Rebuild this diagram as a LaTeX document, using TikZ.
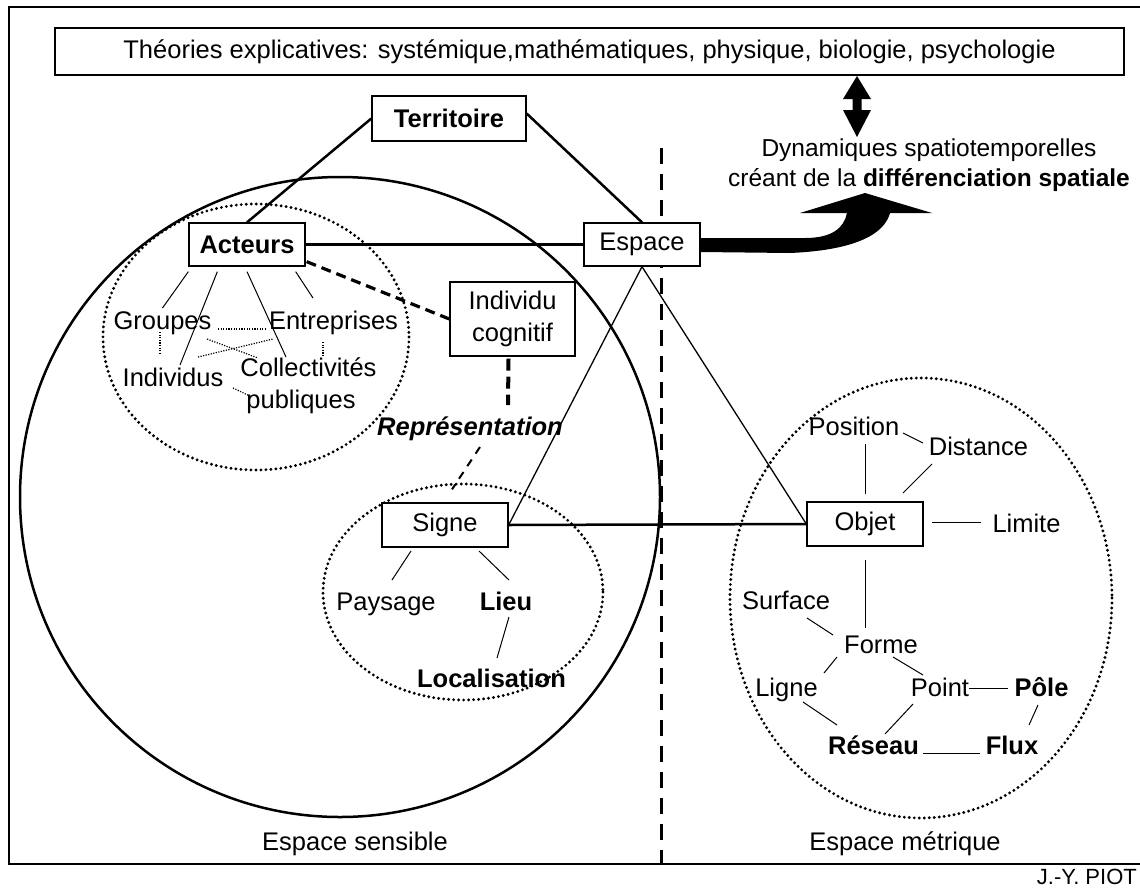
\documentclass[tikz,border=0pt]{standalone}
\usepackage{fontspec}
\setmainfont{Liberation Sans}
\usetikzlibrary{calc}
\newcommand\myfs{\fontsize{25.5}{30}\selectfont}
\newcommand\myfsb{\fontsize{25.5}{32}\selectfont}
\newcommand\myfsd{\fontsize{24.5}{30}\selectfont}
\begin{document}
\begin{tikzpicture}[x=1pt,y=-1pt,
  box/.style={draw, fill=white, line width=1.3pt, inner sep=0pt, font=\myfs},
  lbl/.style={inner sep=0pt, text height=18pt, text depth=5pt, font=\myfs},
  thk/.style={line width=2.5pt},
  thn/.style={line width=1.3pt},
  cl/.style={line width=1pt},
  dotc/.style={line width=3.2pt, line cap=round, dash pattern=on 0pt off 5pt},
  dotl/.style={line width=1.2pt, dash pattern=on 1.2pt off 1.4pt},
  dsh/.style={line width=3.2pt, dash pattern=on 10pt off 6pt},
  vdsh/.style={line width=3pt, dash pattern=on 16pt off 10pt},
  ldsh/.style={line width=2pt, dash pattern=on 8pt off 7pt}]
\useasboundingbox (0,0) rectangle (1140,892);
\fill[white] (0,0) rectangle (1140,892);
\draw[line width=2pt] (9,7) rectangle (1146,864);

% circles
\draw[thk] (340,497) circle[radius=320];
\draw[dotc] (256,337) ellipse[x radius=153, y radius=133];
\draw[dotc] (463,592) ellipse[x radius=140, y radius=108];
\draw[dotc] (921,598) ellipse[x radius=191, y radius=220];

% separator
\draw[vdsh] (661,148) -- (661,864);

% boxes
\node[box, minimum width=1069pt, minimum height=47pt, line width=1.5pt] (title) at (589.5,51.5)
  {Théories explicatives: systémique,mathématiques, physique, biologie, psychologie};
\node[box, minimum width=154pt, minimum height=45pt, font=\myfs\bfseries] (terr) at (449,118.5) {Territoire};
\node[box, minimum width=116pt, minimum height=43pt, font=\myfs\bfseries] (act) at (247,244.5) {Acteurs};
\node[box, minimum width=116pt, minimum height=43pt] (esp) at (642,244.5) {Espace};
\node[box, minimum width=125pt, minimum height=74pt, align=center, font=\myfsb] (indiv) at (512.5,319) {Individu\\cognitif};
\node[box, minimum width=126pt, minimum height=44pt] (signe) at (445,525) {Signe};
\node[box, minimum width=116pt, minimum height=44pt] (objet) at (865,524) {Objet};

% labels
\node[lbl] (grp) at (162.5,323) {Groupes};
\node[lbl] (ent) at (333.5,323) {Entreprises};
\node[lbl] (indv) at (173,380) {Individus};
\node[lbl] (col) at (308.5,370) {Collectivités};
\node[lbl] (pub) at (301,402) {publiques};
\node[lbl, font=\myfs\bfseries\itshape] (rep) at (470,429) {Représentation};
\node[lbl] (pay) at (386,604) {Paysage};
\node[lbl, font=\myfs\bfseries] (lieu) at (506,604) {Lieu};
\node[lbl, font=\myfs\bfseries] (loc) at (491.5,681) {Localisation};
\node[lbl] (pos) at (854,429) {Position};
\node[lbl] (dist) at (978.5,449) {Distance};
\node[lbl] (lim) at (1026.5,526) {Limite};
\node[lbl] (surf) at (786,603) {Surface};
\node[lbl] (forme) at (881,647) {Forme};
\node[lbl] (ligne) at (786.5,690) {Ligne};
\node[lbl] (point) at (940,690) {Point};
\node[lbl, font=\myfs\bfseries] (pole) at (1041.5,690) {Pôle};
\node[lbl, font=\myfs\bfseries] (res) at (873.5,748) {Réseau};
\node[lbl, font=\myfs\bfseries] (flux) at (1012,748) {Flux};
\node[inner sep=0pt, align=center, font=\myfsd] (dyn) at (929,165)
  {Dynamiques spatiotemporelles\\créant de la \textbf{différenciation spatiale}};
\node[lbl] (sens) at (355,844) {Espace sensible};
\node[lbl] (metr) at (905,844) {Espace métrique};
\node[lbl, anchor=east, font=\fontsize{22}{26}\selectfont] (piot) at (1137,878) {J.-Y. PIOT};

% triangle connectors
\draw[thk] (terr.west) -- (act.north);
\draw[thk] ($(terr.east)+(0,-5)$) -- (esp.north);
\draw[thk] (act.east) -- (esp.west);
\draw[thk] (signe.east) -- (objet.west);
\draw[thn] (esp.south) -- (signe.east);
\draw[thn] (esp.south) -- (objet.west);
\draw[dsh] ($(act.south east)+(1,-5)$) -- (indiv.west);
\draw[line width=4pt, dash pattern=on 12pt off 6pt] ($(indiv.south)+(-4,2)$) -- ($(rep)+(38,-24)$);
\draw[ldsh] ($(rep)+(10,18)$) -- ($(signe.north)+(7,-13)$);

% left cluster
\draw[cl] ($(act.south west)+(0,5)$) -- ($(grp)+(0,-15)$);
\draw[cl] ($(act.south west)+(29,5)$) -- ($(indv)+(7,-15)$);
\draw[cl] ($(act.south)+(0,5)$) -- ($(col)+(-22.5,-13)$);
\draw[cl] ($(act.south east)+(-10,5)$) -- ($(ent)+(-20.5,-25)$);
\draw[dotl] ($(grp)+(55.5,6)$) -- ($(ent)+(-68.5,6)$);
\draw[dotl] ($(grp)+(-2.5,9)$) -- ($(indv)+(-13,-25)$);
\draw[dotl] ($(ent)+(-10.5,19)$) -- ($(col)+(14.5,-13)$);
\draw[dotl] ($(grp)+(44.5,16)$) -- ($(col)+(-50.5,-12)$);
\draw[dotl] ($(indv)+(25,-23)$) -- ($(ent)+(-60.5,16)$);
\draw[dotl] ($(indv)+(60,8)$) -- ($(pub)+(-49,-5)$);

% signe cluster
\draw[cl] ($(signe)+(-34,26)$) -- ($(pay)+(6,-24)$);
\draw[cl] ($(signe)+(34,26)$) -- ($(lieu)+(3,-24)$);
\draw[cl] ($(lieu)+(3,13)$) -- ($(loc)+(5.5,-23)$);

% right cluster
\draw[cl] ($(pos)+(49,4)$) -- ($(dist)+(-55.5,-6)$);
\draw[cl] ($(pos)+(11,15)$) -- ($(objet)+(0,-30)$);
\draw[cl] ($(dist)+(-46.5,15)$) -- ($(objet)+(38,-31)$);
\draw[cl] ($(objet)+(67,-2)$) -- ($(lim)+(-45.5,-4)$);
\draw[cl] ($(objet)+(0,36)$) -- ($(forme)+(-16,-19)$);
\draw[cl] ($(surf)+(21,15)$) -- ($(forme)+(-48,-12)$);
\draw[cl] ($(forme)+(-44,10)$) -- ($(ligne)+(37.5,-17)$);
\draw[cl] ($(forme)+(12,10)$) -- ($(point)+(-17,-15)$);
\draw[cl] ($(point)+(29,-2)$) -- ($(pole)+(-33.5,-2)$);
\draw[cl] ($(ligne)+(16.5,12)$) -- ($(res)+(-36.5,-23)$);
\draw[cl] ($(point)+(-27,14)$) -- ($(res)+(11.5,-14)$);
\draw[cl] ($(pole)+(-3.5,15)$) -- ($(flux)+(17,-23)$);
\draw[cl] ($(res)+(49.5,5)$) -- ($(flux)+(-32,5)$);

% double arrow between title and dynamics
\fill (857,76) -- (871,99) -- (861.5,99) -- (861.5,110) -- (871,110) -- (857,137)
  -- (843,110) -- (852.5,110) -- (852.5,99) -- (843,99) -- cycle;

% big curved arrow from Espace
\fill ($(esp.east)+(0,-6.5)$) -- (805,238) .. controls (832,238) and (844,228) .. (847,213)
  -- (800,213) -- (865,193) -- (932,213) -- (890,213)
  .. controls (885,232) and (860,250) .. (790,253) -- ($(esp.east)+(0,7.5)$) -- cycle;
\end{tikzpicture}
\end{document}
